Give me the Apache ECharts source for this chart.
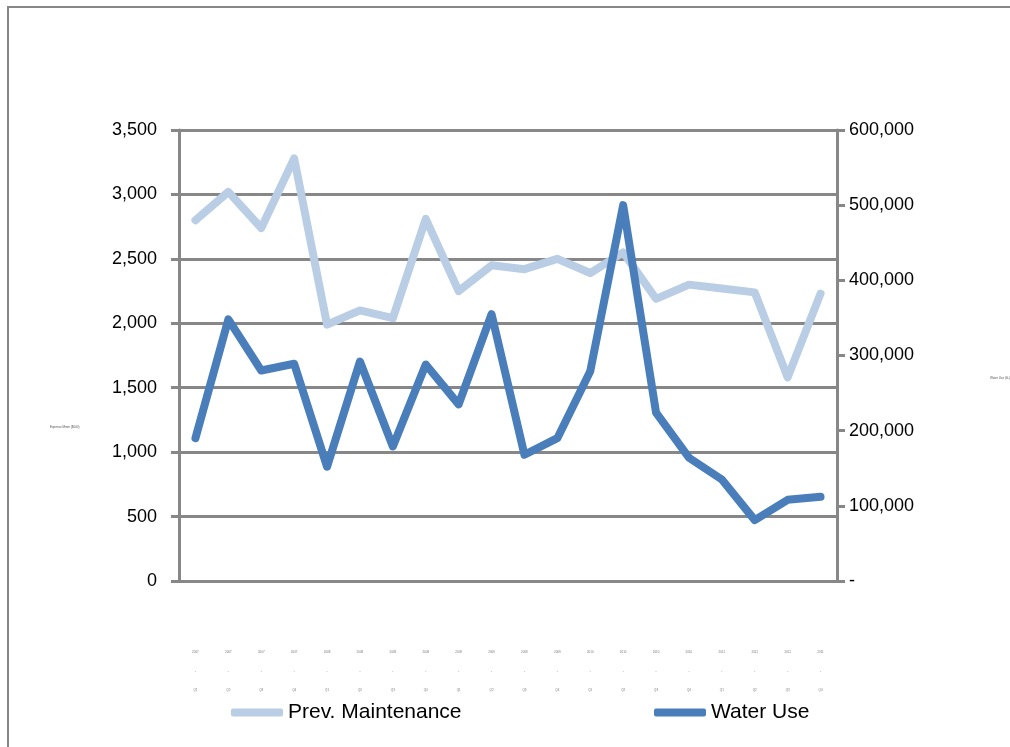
<!DOCTYPE html>
<html>
<head>
<meta charset="utf-8">
<script src="https://cdn.jsdelivr.net/npm/echarts@6/dist/echarts.min.js"></script>
<style>
  html, body { margin: 0; padding: 0; background: #fff; }
  #main { width: 1010px; height: 747px; }
</style>
</head>
<body>
<div id="main"></div>
<script>
var chart = echarts.init(document.getElementById('main'));

// periods on the x axis (labels are tiny in the original)
var periods = [
  '2007\n-\nQ1', '2007\n-\nQ2', '2007\n-\nQ3', '2007\n-\nQ4',
  '2008\n-\nQ1', '2008\n-\nQ2', '2008\n-\nQ3', '2008\n-\nQ4',
  '2009\n-\nQ1', '2009\n-\nQ2', '2009\n-\nQ3', '2009\n-\nQ4',
  '2010\n-\nQ1', '2010\n-\nQ2', '2010\n-\nQ3', '2010\n-\nQ4',
  '2011\n-\nQ1', '2011\n-\nQ2', '2011\n-\nQ3', '2011\n-\nQ4'
];
var prevMaintenance = [2800, 3020, 2740, 3280, 1990, 2100, 2040, 2810, 2250, 2450,
                       2420, 2500, 2390, 2550, 2190, 2300, 2270, 2240, 1580, 2230];
var waterUse = [190000, 348000, 280000, 289000, 152000, 292000, 179000, 288000, 235000, 355000,
                168000, 190000, 279000, 500000, 224000, 164000, 135000, 81000, 108000, 112000];

var gray = '#878787';
var fontFam = 'Liberation Sans, Arial, sans-serif';

var option = {
    animation: false,
    backgroundColor: '#fff',
    graphic: [
        { type: 'rect', shape: { x: 8, y: 7, width: 1100, height: 800 },
          style: { fill: 'none', stroke: gray, lineWidth: 2 }, silent: true },
        { type: 'text', left: 50, top: 426,
          style: { text: 'Expense Mmm ($000)', fontSize: 3, fill: '#555', fontFamily: fontFam } },
        { type: 'text', left: 990, top: 377,
          style: { text: 'Water Use (kL)', fontSize: 3, fill: '#555', fontFamily: fontFam } }
    ],
    legend: [
        {
            data: ['Prev. Maintenance'],
            left: 226, top: 697,
            icon: 'roundRect', itemWidth: 52, itemHeight: 8,
            textStyle: { fontSize: 21, color: '#000', fontFamily: fontFam }
        },
        {
            data: ['Water Use'],
            left: 649, top: 697,
            icon: 'roundRect', itemWidth: 52, itemHeight: 8,
            textStyle: { fontSize: 21, color: '#000', fontFamily: fontFam }
        }
    ],
    grid: { left: 179, right: 173, top: 130, bottom: 166 },
    xAxis: {
        type: 'category',
        data: periods,
        boundaryGap: true,
        axisLine: { lineStyle: { color: gray, width: 3 } },
        axisTick: { show: false },
        axisLabel: {
            interval: 0, fontSize: 3, lineHeight: 19, margin: 62,
            color: '#777', fontFamily: fontFam
        }
    },
    yAxis: [
        {
            type: 'value',
            min: 0, max: 3500, interval: 500,
            axisLine: { show: true, lineStyle: { color: gray, width: 3 } },
            axisTick: { show: true, length: 8, lineStyle: { color: gray, width: 3 } },
            splitLine: { lineStyle: { color: gray, width: 3 } },
            axisLabel: {
                margin: 22, fontSize: 18, color: '#000', fontFamily: fontFam,
                formatter: function (v) { return v.toLocaleString('en-US'); }
            }
        },
        {
            type: 'value',
            min: 0, max: 600000, interval: 100000,
            position: 'right',
            axisLine: { show: true, lineStyle: { color: gray, width: 3 } },
            axisTick: { show: true, length: 8, lineStyle: { color: gray, width: 3 } },
            splitLine: { show: false },
            axisLabel: {
                margin: 12, fontSize: 18, color: '#000', fontFamily: fontFam,
                formatter: function (v) { return v === 0 ? '-' : v.toLocaleString('en-US'); }
            }
        }
    ],
    series: [
        {
            name: 'Prev. Maintenance',
            type: 'line',
            yAxisIndex: 0,
            data: prevMaintenance,
            showSymbol: false,
            color: '#b9cde5',
            lineStyle: { width: 8, color: '#b9cde5', cap: 'round', join: 'round' }
        },
        {
            name: 'Water Use',
            type: 'line',
            yAxisIndex: 1,
            data: waterUse,
            showSymbol: false,
            color: '#4a7ebb',
            lineStyle: { width: 8, color: '#4a7ebb', cap: 'round', join: 'round' }
        }
    ]
};
chart.setOption(option);
</script>
</body>
</html>
